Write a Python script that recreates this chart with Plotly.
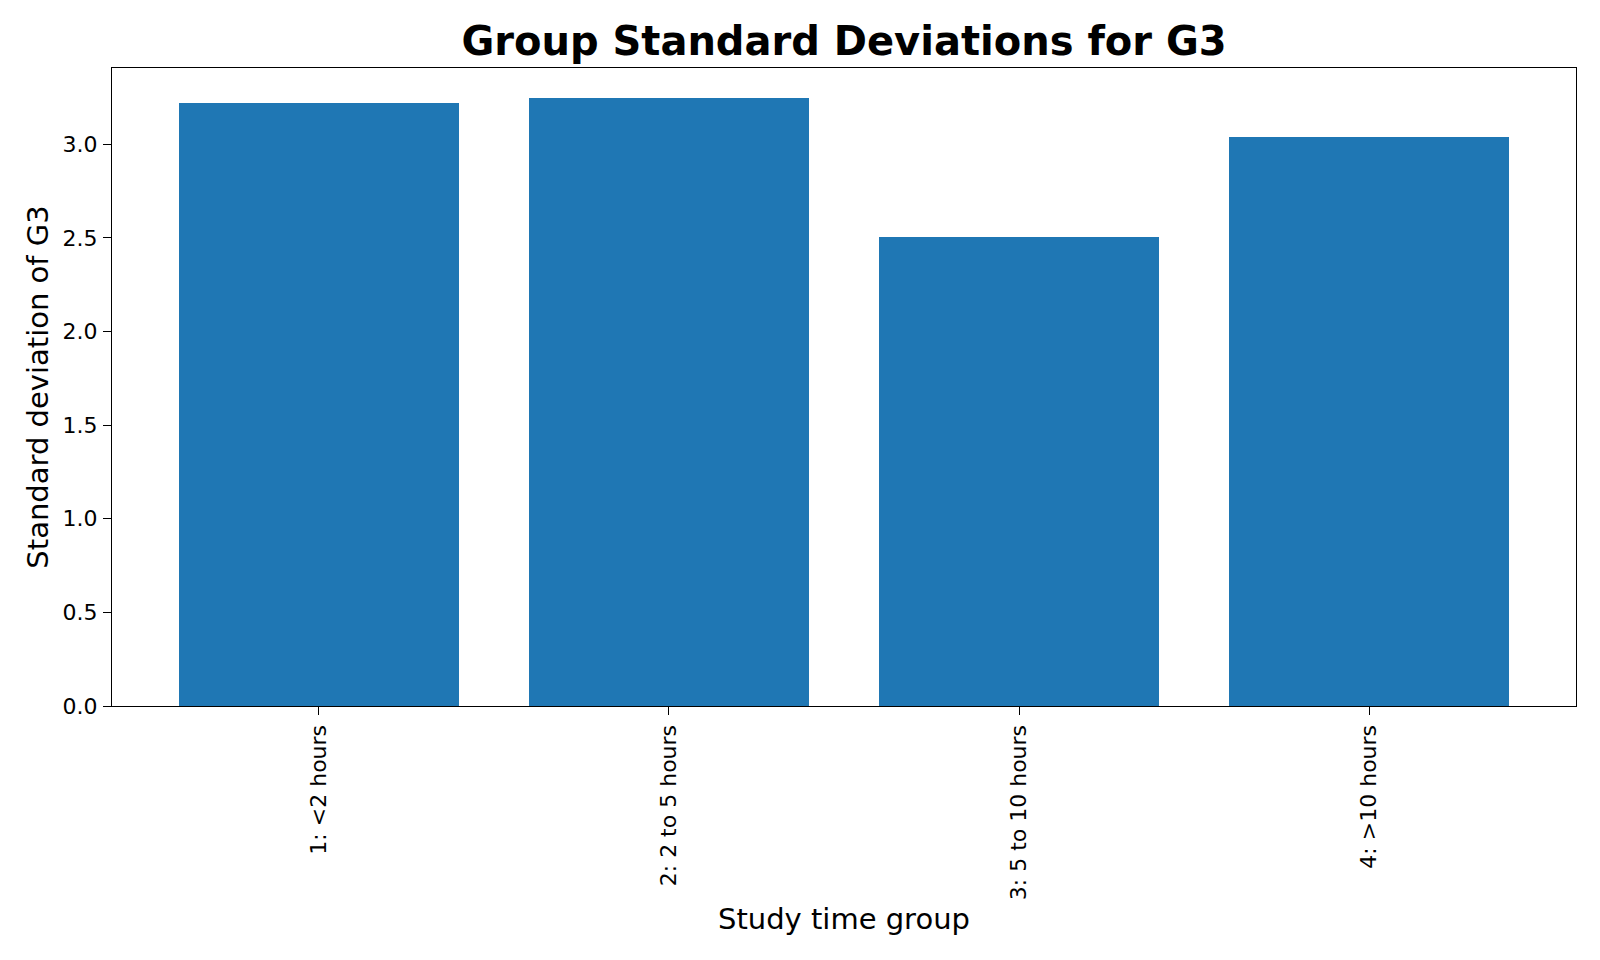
import plotly.graph_objects as go

categories = ["1: <2 hours", "2: 2 to 5 hours", "3: 5 to 10 hours", "4: >10 hours"]
std_values = [3.218, 3.245, 2.504, 3.038]
y_ticks = [0.0, 0.5, 1.0, 1.5, 2.0, 2.5, 3.0]

font_family = "DejaVu Sans"

fig = go.Figure()
fig.add_trace(go.Bar(
    x=list(range(len(categories))),
    y=std_values,
    width=0.8,
    marker=dict(color="#1f77b4", line=dict(width=0)),
))

ymax = max(std_values) * 1.05
fig.update_layout(
    width=1600, height=960,
    margin=dict(l=112, r=24, t=68, b=254),
    plot_bgcolor="white", paper_bgcolor="white",
    font=dict(family=font_family, color="black"),
    showlegend=False,
    bargap=0,
    title=dict(
        text="<b>Group Standard Deviations for G3</b>",
        font=dict(size=40, family=font_family, color="black"),
        x=0.5, xref="paper", xanchor="center",
        y=1 - 41 / 960, yref="container", yanchor="middle",
    ),
)

fig.update_xaxes(
    range=[-0.59, 3.59],
    tickmode="array",
    tickvals=list(range(len(categories))),
    ticktext=categories,
    tickangle=-90,
    tickfont=dict(size=22, family=font_family, color="black"),
    ticks="outside", ticklen=8, tickwidth=1.3, tickcolor="black",
    ticklabelstandoff=1,
    showline=True, linecolor="black", linewidth=1.3, mirror=True,
    showgrid=False, zeroline=False,
    title=dict(text="Study time group", font=dict(size=29, family=font_family, color="black"), standoff=9),
)
fig.update_yaxes(
    range=[0, ymax],
    tickmode="array",
    tickvals=y_ticks,
    tickformat=".1f",
    tickfont=dict(size=22, family=font_family, color="black"),
    ticks="outside", ticklen=8, tickwidth=1.3, tickcolor="black",
    ticklabelstandoff=1,
    showline=True, linecolor="black", linewidth=1.3, mirror=True,
    showgrid=False, zeroline=False,
    title=dict(text="Standard deviation of G3", font=dict(size=29, family=font_family, color="black"), standoff=5),
)

fig.write_html("out.html")
